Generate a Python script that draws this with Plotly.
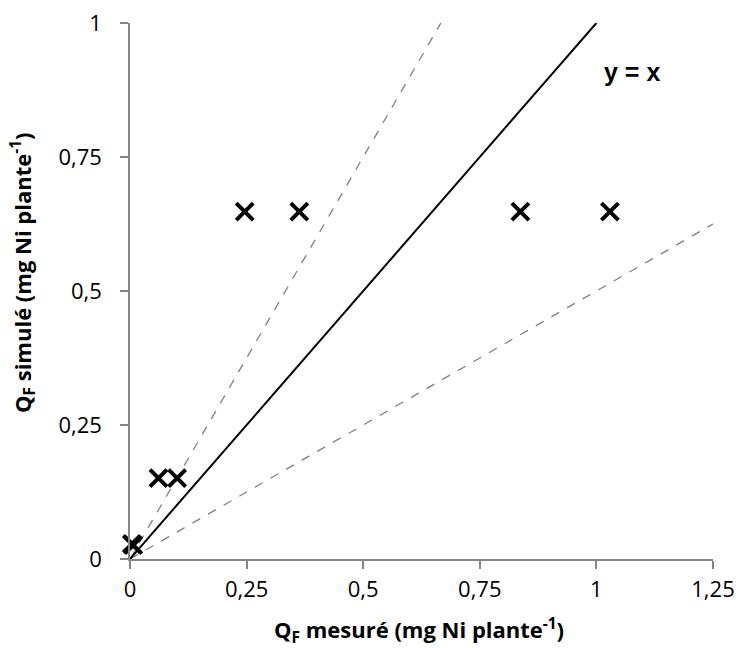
import plotly.graph_objects as go

# Data
q_mesure = [0.004, 0.007, 0.061, 0.101, 0.246, 0.363, 0.837, 1.029]
q_simule = [0.028, 0.026, 0.151, 0.151, 0.648, 0.648, 0.648, 0.648]

tick_vals_x = [0, 0.25, 0.5, 0.75, 1, 1.25]
tick_text_x = ["0", "0,25", "0,5", "0,75", "1", "1,25"]
tick_vals_y = [0, 0.25, 0.5, 0.75, 1]
tick_text_y = ["0", "0,25", "0,5", "0,75", "1"]

x_title = "<b>Q<sub>F</sub> mesuré (mg Ni plante<sup>-1</sup>)</b>"
y_title = "<b>Q<sub>F</sub> simulé (mg Ni plante<sup>-1</sup>)</b>"

x_max = 1.25
y_max = 1.0
slope_identity = 1.0
slope_upper = 1.5
slope_lower = 0.5

FONT = "'Open Sans', sans-serif"
AXIS_GRAY = "#868686"

def line_end(slope):
    x_end = min(x_max, y_max / slope)
    return [0, x_end], [0, slope * x_end]

fig = go.Figure()

for slope, color, dash, width in [
    (slope_upper, "#808080", "dash", 1.3),
    (slope_lower, "#808080", "dash", 1.3),
    (slope_identity, "#000000", "solid", 2),
]:
    xs, ys = line_end(slope)
    fig.add_trace(go.Scatter(x=xs, y=ys, mode="lines",
                             line=dict(color=color, dash=dash, width=width),
                             hoverinfo="skip", showlegend=False))

fig.add_trace(go.Scatter(
    x=q_mesure, y=q_simule, mode="markers", cliponaxis=False,
    marker=dict(symbol="x-thin", size=17,
                line=dict(color="#000000", width=4), color="#000000"),
    showlegend=False))

fig.add_annotation(x=1.076, y=0.909, xref="x", yref="y", text="<b>y = x</b>",
                   showarrow=False,
                   font=dict(family="'Liberation Sans', Arial, sans-serif", size=25, color="#000000"))

# Axis titles (placed as annotations to match the reference positions)
fig.add_annotation(x=0.496, y=-0.134, xref="paper", yref="paper", text=x_title,
                   showarrow=False, xanchor="center", yanchor="middle",
                   font=dict(family=FONT, size=22, color="#000000"))
fig.add_annotation(x=-0.184, y=0.535, xref="paper", yref="paper", text=y_title,
                   textangle=-90, showarrow=False, xanchor="center", yanchor="middle",
                   font=dict(family=FONT, size=22, color="#000000"))

fig.update_layout(
    width=739, height=648,
    margin=dict(l=130, r=26, t=23, b=89),
    paper_bgcolor="white", plot_bgcolor="white",
    font=dict(family=FONT, size=22, color="#000000"),
    xaxis=dict(range=[0, x_max], tickvals=tick_vals_x, ticktext=tick_text_x,
               automargin=False,
               showgrid=False, zeroline=False, showline=True,
               linecolor=AXIS_GRAY, linewidth=1.5,
               ticks="outside", ticklen=8, tickwidth=1.5, tickcolor=AXIS_GRAY,
               ticklabelstandoff=2),
    yaxis=dict(range=[0, y_max], tickvals=tick_vals_y, ticktext=tick_text_y,
               automargin=False,
               showgrid=False, zeroline=False, showline=True,
               linecolor=AXIS_GRAY, linewidth=1.5,
               ticks="outside", ticklen=8, tickwidth=1.5, tickcolor=AXIS_GRAY,
               ticklabelstandoff=14),
)

fig.write_html("out.html", config={"displayModeBar": False},
               post_script="document.body.style.margin='0';document.body.style.overflow='hidden';")
